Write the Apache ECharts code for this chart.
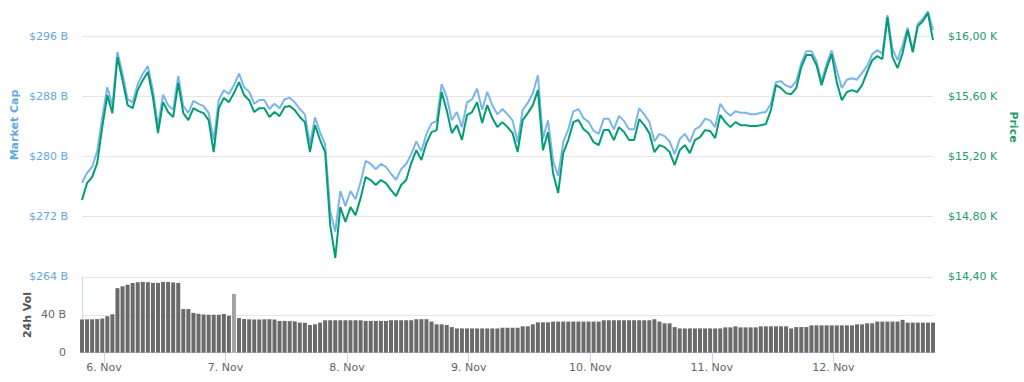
<!DOCTYPE html>
<html>
<head>
<meta charset="utf-8">
<script src="https://cdn.jsdelivr.net/npm/echarts@6/dist/echarts.min.js"></script>
<style>
html,body{margin:0;padding:0;background:#fff;}
#chart{width:1024px;height:382px;}
</style>
</head>
<body>
<div id="chart"></div>
<script>
// hourly samples, first at 5 Nov 19:40
const firstSample = [2017, 10, 5, 19, 40];
const dayLabels = [6, 7, 8, 9, 10, 11, 12];

const marketCapB = [
  276.5, 277.8, 278.6, 280.7, 285.2, 289.2, 286.8, 293.9, 291.0, 287.6,
  287.2, 289.6, 291.0, 292.0, 288.8, 284.0, 288.2, 286.8, 286.2, 290.7,
  286.7, 285.8, 287.4, 287.0, 286.7, 285.8, 282.2, 287.5, 288.8, 288.3,
  289.5, 291.0, 289.2, 288.6, 287.0, 287.5, 287.5, 286.3, 287.0, 286.4,
  287.6, 287.8, 287.2, 286.3, 285.6, 281.6, 285.2, 283.2, 281.6, 272.7,
  270.0, 275.4, 273.4, 275.4, 274.3, 276.6, 279.4, 279.0, 278.3, 279.0,
  278.6, 277.7, 276.9, 278.3, 279.0, 280.3, 282.0, 280.7, 283.0, 284.4,
  284.7, 289.6, 287.9, 284.8, 285.9, 283.9, 287.2, 287.6, 289.0, 286.2,
  288.6, 286.8, 285.6, 286.3, 285.6, 284.8, 281.9, 286.2, 287.1, 288.4,
  290.8, 282.4, 284.8, 279.4, 277.4, 281.9, 283.6, 286.0, 286.3, 285.1,
  284.6, 283.4, 283.0, 285.0, 285.0, 283.6, 285.4, 284.7, 283.6, 283.6,
  286.4, 285.6, 284.6, 282.0, 283.0, 282.7, 282.0, 280.3, 282.3, 283.0,
  281.9, 283.6, 284.0, 285.0, 284.8, 283.9, 287.0, 286.0, 285.4, 286.0,
  285.8, 285.8, 285.6, 285.6, 285.8, 285.9, 287.0, 289.9, 290.0, 289.4,
  289.2, 290.0, 292.4, 294.0, 294.0, 292.7, 290.0, 292.3, 294.1, 291.5,
  289.1, 290.2, 290.4, 290.2, 291.1, 292.0, 293.6, 294.1, 293.7, 298.8,
  294.3, 292.8, 294.8, 297.1, 294.1, 297.6, 298.3, 299.3, 296.8
];

const priceUSD = [
  14910, 15023, 15063, 15156, 15395, 15608, 15488, 15860, 15707, 15541,
  15521, 15641, 15707, 15761, 15594, 15355, 15561, 15495, 15462, 15687,
  15488, 15442, 15521, 15501, 15488, 15442, 15229, 15521, 15588, 15561,
  15621, 15694, 15608, 15574, 15495, 15521, 15521, 15462, 15495, 15468,
  15528, 15535, 15508, 15462, 15428, 15229, 15408, 15309, 15229, 14744,
  14525, 14863, 14764, 14863, 14810, 14923, 15063, 15043, 15010, 15043,
  15023, 14976, 14937, 15010, 15043, 15156, 15242, 15176, 15289, 15362,
  15375, 15628, 15508, 15355, 15408, 15309, 15475, 15495, 15561, 15422,
  15541, 15455, 15395, 15428, 15395, 15355, 15229, 15442, 15488, 15541,
  15641, 15242, 15362, 15089, 14957, 15222, 15309, 15428, 15442, 15382,
  15355, 15295, 15275, 15375, 15375, 15309, 15395, 15362, 15309, 15309,
  15448, 15408, 15355, 15229, 15275, 15262, 15229, 15143, 15242, 15275,
  15222, 15309, 15329, 15375, 15369, 15322, 15475, 15428, 15395, 15428,
  15408, 15408, 15402, 15402, 15408, 15415, 15508, 15674, 15654, 15621,
  15614, 15654, 15794, 15874, 15874, 15807, 15674, 15787, 15880, 15694,
  15574, 15628, 15641, 15628, 15674, 15761, 15840, 15867, 15847, 16126,
  15860, 15787, 15887, 16040, 15893, 16066, 16099, 16153, 15973
];

const volumeB = [
  35.0, 35.2, 35.2, 35.4, 36.0, 38.5, 40.5, 68.0, 70.0, 71.5,
  73.5, 74.3, 74.6, 74.3, 73.6, 73.6, 74.6, 74.6, 74.0, 73.6,
  46.0, 46.0, 42.0, 41.0, 40.3, 40.0, 40.0, 40.0, 40.8, 39.0,
  62.0, 36.5, 35.5, 35.2, 35.0, 35.0, 35.2, 35.3, 35.0, 33.5,
  33.5, 33.3, 33.0, 31.7, 31.5, 29.2, 29.9, 31.7, 34.2, 34.2,
  34.2, 34.2, 34.2, 34.2, 34.2, 34.2, 33.5, 33.5, 33.5, 33.5,
  33.5, 34.2, 34.2, 34.2, 34.2, 34.2, 35.3, 35.3, 35.3, 32.8,
  29.9, 29.9, 29.2, 27.0, 25.6, 25.6, 25.6, 25.6, 25.6, 25.6,
  25.6, 25.6, 25.6, 26.3, 26.3, 26.3, 26.3, 27.8, 27.8, 29.9,
  32.0, 32.0, 32.0, 32.8, 32.8, 32.8, 32.8, 32.8, 32.8, 32.8,
  32.8, 32.8, 32.8, 34.2, 34.2, 34.2, 34.2, 34.2, 34.2, 34.2,
  34.2, 34.2, 34.2, 35.3, 32.8, 31.0, 31.0, 27.0, 25.6, 25.6,
  25.6, 25.6, 25.6, 25.6, 25.6, 25.6, 25.6, 26.7, 26.7, 27.8,
  26.7, 26.7, 26.7, 26.7, 27.8, 27.8, 27.8, 27.8, 27.8, 27.8,
  25.6, 27.0, 27.0, 27.0, 28.8, 28.8, 28.8, 28.8, 28.8, 28.8,
  28.8, 28.8, 28.8, 29.9, 29.9, 31.0, 31.0, 32.8, 32.8, 32.8,
  32.8, 32.8, 34.6, 31.7, 31.7, 31.7, 31.7, 31.7, 31.7
];

const HOUR = 3600000;
const start = new Date(...firstSample).getTime();
const times = marketCapB.map((_, i) => start + i * HOUR);
const end = times[times.length - 1];
const dayTicks = dayLabels.map(d => new Date(2017, 10, d).getTime());

const FONT = 'DejaVu Sans';
const BLUE = '#7cb5ec';
const BLUE_TXT = '#62a8e0';
const GREEN = '#009e73';
const GREEN_TXT = '#1a9c6e';

const chart = echarts.init(document.getElementById('chart'), null, {renderer: 'svg'});
chart.setOption({
  animation: false,
  backgroundColor: '#ffffff',
  grid: [
    {left: 82, right: 91, top: 6, height: 270.8},
    {left: 82, right: 91, top: 276.8, height: 75.9}
  ],
  xAxis: [
    {type: 'value', gridIndex: 0, min: start, max: end, show: false, splitLine: {show: false}},
    {
      type: 'value', gridIndex: 1, min: start, max: end,
      axisLine: {show: true, lineStyle: {color: '#ccd6eb', width: 1}},
      axisTick: {show: true, customValues: dayTicks, length: 10, lineStyle: {color: '#ccd6eb'}},
      axisLabel: {
        customValues: dayTicks, color: '#666', fontFamily: FONT, fontSize: 11, margin: 9,
        formatter: v => new Date(v).getDate() + '. Nov'
      },
      splitLine: {show: false}
    }
  ],
  yAxis: [
    {
      type: 'value', gridIndex: 0, position: 'left', min: 264, max: 300, interval: 8,
      axisLine: {show: false}, axisTick: {show: false},
      axisLabel: {color: BLUE_TXT, fontFamily: FONT, fontSize: 11, margin: 14, showMaxLabel: false,
        formatter: v => '$' + v + ' B'},
      splitLine: {show: true, showMaxLine: false, lineStyle: {color: '#e6e6e6', width: 1}}
    },
    {
      type: 'value', gridIndex: 0, position: 'right', min: 14400, max: 16200, interval: 400,
      axisLine: {show: false}, axisTick: {show: false},
      axisLabel: {color: GREEN_TXT, fontFamily: FONT, fontSize: 11, margin: 15, showMaxLabel: false,
        formatter: v => '$' + (v / 1000).toFixed(2).replace('.', ',') + ' K'},
      splitLine: {show: false}
    },
    {
      type: 'value', gridIndex: 1, position: 'left', min: 0, max: 80, interval: 40,
      axisLine: {show: true, lineStyle: {color: '#ccd6eb'}}, axisTick: {show: false},
      axisLabel: {color: '#666', fontFamily: FONT, fontSize: 11, margin: 16, showMaxLabel: false,
        formatter: v => v === 0 ? '0' : v + ' B'},
      splitLine: {show: true, showMaxLine: false, showMinLine: false, lineStyle: {color: '#e6e6e6', width: 1}}
    }
  ],
  graphic: [
    {type: 'text', x: 14, y: 125, rotation: Math.PI / 2,
      style: {text: 'Market Cap', fill: BLUE_TXT, font: 'bold 11px "DejaVu Sans"', align: 'center', verticalAlign: 'middle', textAlign: 'center', textVerticalAlign: 'middle'}},
    {type: 'text', x: 1013, y: 127, rotation: -Math.PI / 2,
      style: {text: 'Price', fill: GREEN_TXT, font: 'bold 11px "DejaVu Sans"', align: 'center', verticalAlign: 'middle', textAlign: 'center', textVerticalAlign: 'middle'}},
    {type: 'text', x: 27, y: 315, rotation: Math.PI / 2,
      style: {text: '24h Vol', fill: '#555', font: 'bold 11px "DejaVu Sans"', align: 'center', verticalAlign: 'middle', textAlign: 'center', textVerticalAlign: 'middle'}}
  ],
  series: [
    {
      name: 'Market Cap', type: 'line', xAxisIndex: 0, yAxisIndex: 0,
      data: times.map((t, i) => [t, marketCapB[i]]),
      showSymbol: false, lineStyle: {color: BLUE, width: 2}, itemStyle: {color: BLUE}
    },
    {
      name: 'Price', type: 'line', xAxisIndex: 0, yAxisIndex: 1,
      data: times.map((t, i) => [t, priceUSD[i]]),
      showSymbol: false, lineStyle: {color: GREEN, width: 2}, itemStyle: {color: GREEN}
    },
    {
      name: '24h Vol', type: 'bar', xAxisIndex: 1, yAxisIndex: 2,
      data: times.map((t, i) => [t, volumeB[i]]),
      barWidth: 4,
      itemStyle: {color: p => p.dataIndex === 30 ? '#a3a3a3' : '#6a6a6a'}
    }
  ]
});
</script>
</body>
</html>
